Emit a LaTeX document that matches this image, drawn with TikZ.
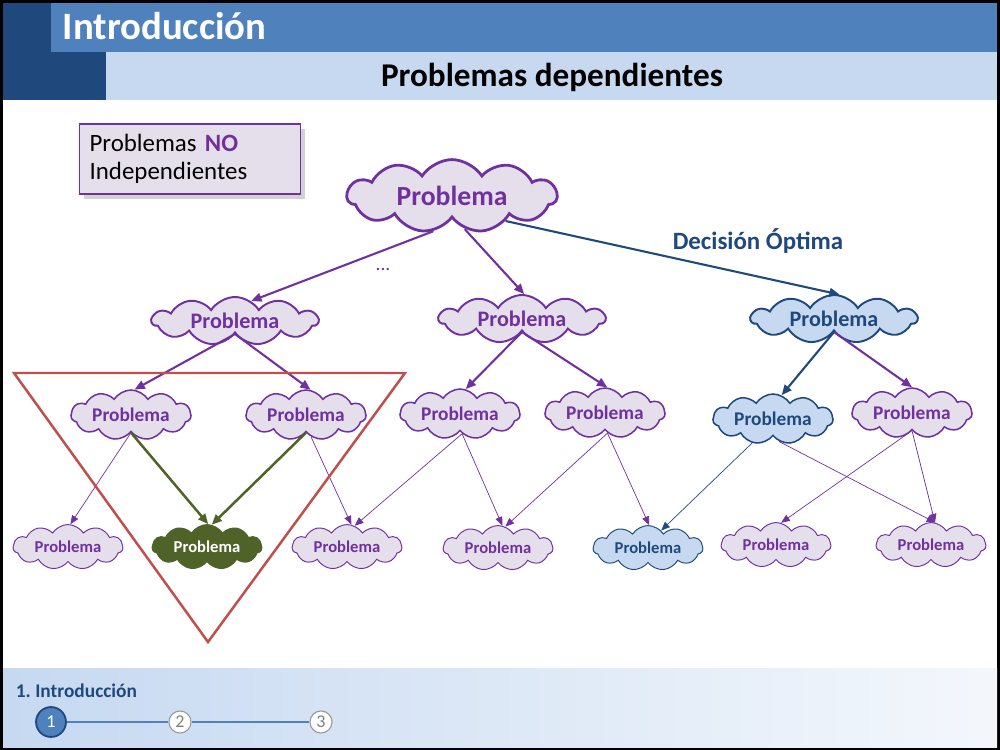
\documentclass[tikz,border=0pt]{standalone}
\usepackage{fontspec}
\setmainfont{Carlito}
\usetikzlibrary{positioning,shapes.symbols,arrows.meta,shadows}

\definecolor{slidepurple}{HTML}{7030A0}
\definecolor{lavender}{HTML}{E5DFEC}
\definecolor{darkblue}{HTML}{1F497D}
\definecolor{midblue}{HTML}{4F81BD}
\definecolor{lightblue}{HTML}{C6D9F1}
\definecolor{olive}{HTML}{4F6228}
\definecolor{framered}{HTML}{C0504D}

\begin{document}
\frenchspacing
\begin{tikzpicture}[
    x=0.254mm, y=-0.254mm,
    cloudbox/.style={cloud, cloud puffs=11, cloud puff arc=115, cloud ignores aspect, inner sep=0pt,
        draw=slidepurple, fill=lavender, text=slidepurple},
    bluecloud/.style={draw=darkblue, fill=lightblue, text=darkblue},
    greencloud/.style={draw=olive, fill=olive, text=white},
    rootcloud/.style={cloudbox, minimum width=53.3mm, minimum height=18.5mm, line width=2pt,
        font=\fontsize{20}{24}\selectfont\bfseries},
    lvone/.style={cloudbox, minimum width=42.2mm, minimum height=12.2mm, line width=1.4pt,
        font=\fontsize{16}{19}\selectfont\bfseries},
    lvtwo/.style={cloudbox, minimum width=30.5mm, minimum height=12.7mm, line width=1.1pt,
        font=\fontsize{14}{17}\selectfont\bfseries},
    lvthree/.style={cloudbox, minimum width=27.9mm, minimum height=11.4mm, line width=0.7pt,
        font=\fontsize{12}{14}\selectfont\bfseries},
    notebox/.style={rectangle, draw=slidepurple, fill=lavender, line width=0.8pt, align=left,
        minimum width=55.9mm, minimum height=17.8mm, text width=51mm, inner sep=2.5mm,
        drop shadow={opacity=0.35, shadow xshift=1.2mm, shadow yshift=-1.2mm},
        font=\fontsize{18}{20}\selectfont},
    step1/.style={circle, draw=darkblue, fill=midblue, text=white, line width=1.3pt,
        minimum size=7.6mm, inner sep=0pt, font=\fontsize{13}{15}\selectfont},
    stepn/.style={circle, draw=gray!80, fill=white, text=gray, line width=0.8pt,
        minimum size=5.6mm, inner sep=0pt, font=\fontsize{13}{15}\selectfont},
    arrow/.style={-{Triangle[length=2.6mm, width=2.2mm]}, line width=1.5pt, slidepurple},
    thinarrow/.style={-{Triangle[length=2.2mm, width=1.8mm]}, line width=0.5pt, slidepurple},
]
\fill[black] (0,0) rectangle (1000,750);
\fill[white] (3,3) rectangle (997,747);
\fill[darkblue] (3,3) rectangle (106,100);
\fill[midblue] (51,3) rectangle (997,52);
\fill[lightblue] (106,52) rectangle (997,100);
\shade[left color=lightblue, right color=lightblue!20] (3,668) rectangle (997,747);

\node[anchor=west, text=white, font=\fontsize{28}{32}\selectfont\bfseries] (title) at (58,26) {Introducción};
\node[text=black, font=\fontsize{24}{28}\selectfont\bfseries] (subtitle) at (552,77) {Problemas dependientes};

\node[notebox] (note) at (190,159) {Problemas \textcolor{slidepurple}{\textbf{NO}}\\Independientes};

\node[rootcloud] (root) at (452,196) {Problema};

\node[lvone] (l1a) at (235,321) {Problema};
\node[lvone] (l1b) at (522,319) {Problema};
\node[lvone, bluecloud] (l1c) at (834,319) {Problema};

\node[lvtwo] (l2a) at (131,415) {Problema};
\node[lvtwo] (l2b) at (306,415) {Problema};
\node[lvtwo] (l2c) at (460,414) {Problema};
\node[lvtwo] (l2d) at (605,413) {Problema};
\node[lvtwo, bluecloud] (l2e) at (773,419) {Problema};
\node[lvtwo] (l2f) at (912,413) {Problema};

\node[lvthree] (l3a) at (68,547) {Problema};
\node[lvthree, greencloud] (l3b) at (207,547) {Problema};
\node[lvthree] (l3c) at (347,547) {Problema};
\node[lvthree] (l3d) at (498,548) {Problema};
\node[lvthree, bluecloud] (l3e) at (648,548) {Problema};
\node[lvthree] (l3f) at (776,545) {Problema};
\node[lvthree] (l3g) at (931,545) {Problema};

\node[text=slidepurple, font=\fontsize{14}{16}\selectfont] (dots) at (383,269) {...};
\node[text=darkblue, font=\fontsize{18}{21}\selectfont\bfseries] (decision) at (758,241) {Decisión Óptima};

\draw[arrow] (root.242) -- (l1a.51);
\draw[arrow] (root.291) -- (l1b.85);
\draw[arrow, darkblue] (root.335) -- (l1c.77);

\draw[arrow] (l1a.270) -- (l2a.82);
\draw[arrow] (l1a.270) -- (l2b.80);
\draw[arrow] (l1b.270) -- (l2c.77);
\draw[arrow] (l1b.270) -- (l2d.85);
\draw[arrow, darkblue] (l1c.270) -- (l2e.70);
\draw[arrow] (l1c.270) -- (l2f.90);

\draw[thinarrow] (l2a.270) -- (l3a.84);
\draw[arrow, olive, line width=1.8pt] (l2a.270) -- (l3b.87);
\draw[arrow, olive, line width=1.8pt] (l2b.270) -- (l3b.78);
\draw[thinarrow] (l2b.283) -- (l3c.79);
\draw[thinarrow] (l2c.276) -- (l3c.70);
\draw[thinarrow] (l2c.276) -- (l3d.79);
\draw[thinarrow] (l2d.277) -- (l3d.71);
\draw[thinarrow] (l2d.277) -- (l3e.87);
\draw[thinarrow, darkblue] (l2e.229) -- (l3e.53);
\draw[thinarrow] (l2e.285) -- (l3g.79);
\draw[thinarrow] (l2f.270) -- (l3f.77);
\draw[thinarrow] (l2f.270) -- (l3g.80);

\draw[framered, line width=1.8pt, line join=miter] (14,373) -- (405,373) -- (208,642) -- cycle;

\node[anchor=west, text=darkblue, font=\fontsize{14}{16}\selectfont\bfseries] (section) at (11,691) {1. Introducción};
\node[step1] (c1) at (51,722) {1};
\node[stepn] (c2) at (180,722) {2};
\node[stepn] (c3) at (321,722) {3};
\draw[midblue, line width=1pt] (c1) -- (c2);
\draw[midblue, line width=1pt] (c2) -- (c3);
\end{tikzpicture}
\end{document}
